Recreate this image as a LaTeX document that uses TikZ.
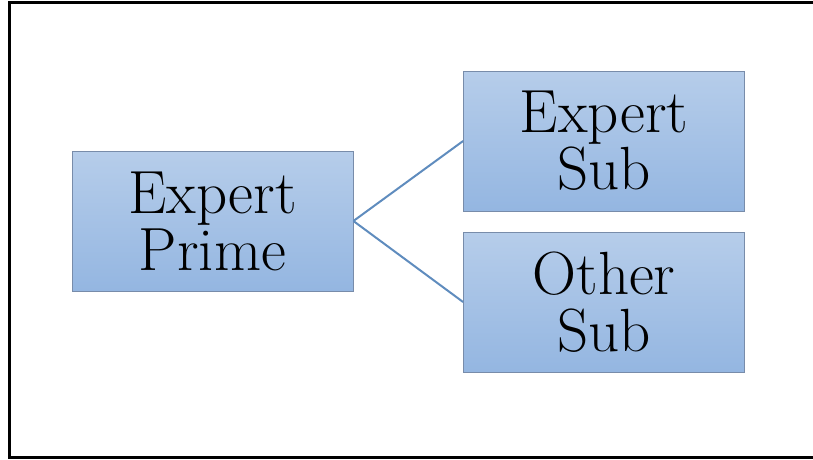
\documentclass[tikz,border=0pt]{standalone}
\usepackage{tikz}
\usetikzlibrary{positioning}

\definecolor{boxtop}{RGB}{182,205,234}
\definecolor{boxbot}{RGB}{148,182,225}
\definecolor{boxline}{RGB}{120,140,170}
\definecolor{linkcol}{RGB}{95,140,190}

\tikzset{
  rolebox/.style={draw=boxline,line width=0.8pt,top color=boxtop,bottom color=boxbot,
    minimum width=281pt,minimum height=140pt,inner sep=0pt,align=center,
    font=\fontsize{61}{57}\selectfont},
  link/.style={draw=linkcol,line width=2pt}
}

\begin{document}
\begin{tikzpicture}[x=1pt,y=-1pt]
    \useasboundingbox (0,0) rectangle (813,459);
    \clip (0,0) rectangle (813,459);

    % Outer frame (right side runs off the page)
    \draw[line width=3pt] (830,2.5) -- (9.5,2.5) -- (9.5,457) -- (830,457);

    % Boxes
    \node[rolebox] (prime) at (212.5,221) {Expert\\Prime};
    \node[rolebox] (expsub) at (604,141) {Expert\\Sub};
    \node[rolebox] (othsub) at (604,302) {Other\\Sub};

    % Links
    \draw[link] (prime.east) -- (expsub.west);
    \draw[link] (prime.east) -- (othsub.west);

\end{tikzpicture}
\end{document}
